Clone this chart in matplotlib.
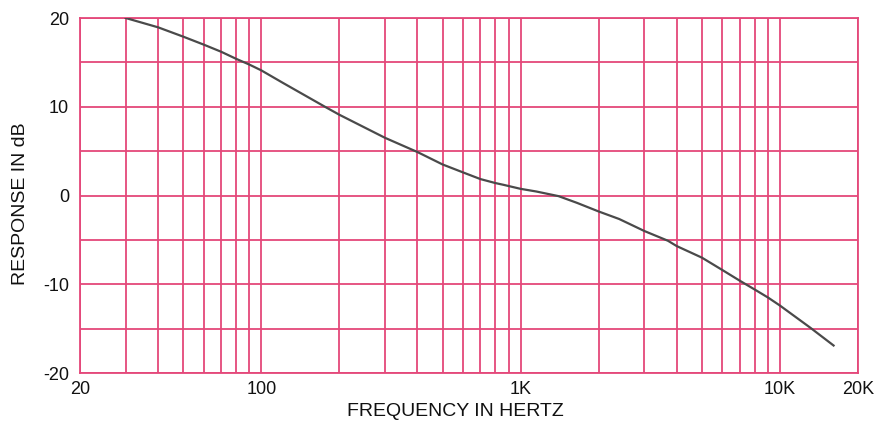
import matplotlib
matplotlib.use("Agg")
import matplotlib.pyplot as plt

# Data
freq_hz = [30, 40, 50, 60, 70, 80, 90, 100, 121, 176, 200, 300, 400, 500, 600,
           700, 800, 860, 1000, 1150, 1400, 1650, 2000, 2400, 3000, 3700, 4000,
           5000, 6000, 7000, 8000, 9000, 10000, 13100, 16100]
response_db = [20.0, 18.95, 17.9, 17.0, 16.2, 15.4, 14.75, 14.1, 12.7, 10.0, 9.1,
               6.5, 4.9, 3.5, 2.6, 1.85, 1.4, 1.2, 0.75, 0.45, -0.07, -0.83,
               -1.8, -2.65, -4.0, -5.1, -5.7, -7.0, -8.4, -9.6, -10.6, -11.5,
               -12.4, -14.9, -16.9]

x_grid = [20, 30, 40, 50, 60, 70, 80, 90, 100, 200, 300, 400, 500, 600, 700,
          800, 900, 1000, 2000, 3000, 4000, 5000, 6000, 7000, 8000, 9000,
          10000, 20000]
x_labeled = {20: "20", 100: "100", 1000: "1K", 10000: "10K", 20000: "20K"}
y_grid = [-20, -15, -10, -5, 0, 5, 10, 15, 20]
y_labeled = {-20: "-20", -10: "-10", 0: "0", 10: "10", 20: "20"}

plt.rcParams['font.family'] = ['Liberation Sans', 'DejaVu Sans']

grid_color = '#e4487a'

fig = plt.figure(figsize=(8.82, 4.23), dpi=100)
ax = fig.add_axes([80/882, 1-373/423, (858-80)/882, (373-18)/423])
ax.set_xscale('log')
ax.set_xlim(20, 20000)
ax.set_ylim(-20, 20)

for xv in x_grid:
    ax.axvline(xv, color=grid_color, lw=1.3, zorder=1)
for yv in y_grid:
    ax.axhline(yv, color=grid_color, lw=1.3, zorder=1)

ax.plot(freq_hz, response_db, color='#4a4a4a', lw=1.6, zorder=3,
        solid_joinstyle='round')

ax.minorticks_off()
ax.set_xticks(list(x_labeled.keys()))
ax.set_xticklabels(list(x_labeled.values()))
ax.set_yticks(list(y_labeled.keys()))
ax.set_yticklabels(list(y_labeled.values()))
ax.tick_params(length=0, labelsize=13, colors='#111111')
ax.tick_params(axis='x', pad=6)
ax.tick_params(axis='y', pad=8)
for s in ax.spines.values():
    s.set_color(grid_color)
    s.set_linewidth(1.3)

fig.text(455/882, 1-411/423, "FREQUENCY IN HERTZ", ha='center', va='center',
         fontsize=14, color='#111111')
fig.text(21/882, 1-204/423, "RESPONSE IN dB", ha='center', va='center',
         rotation=90, fontsize=14, color='#111111')

fig.savefig("out.png", dpi=100)
